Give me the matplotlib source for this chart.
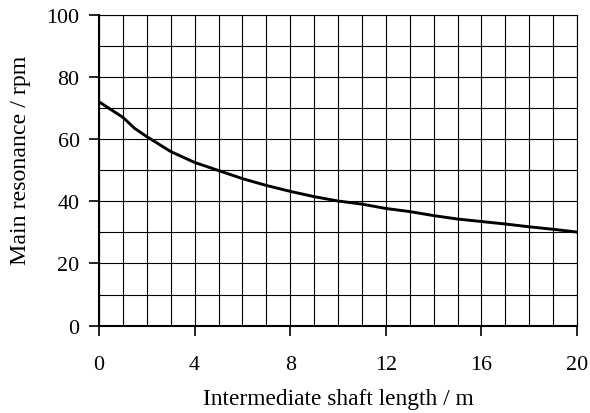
import matplotlib
matplotlib.use("Agg")
import matplotlib.pyplot as plt
from matplotlib.ticker import MultipleLocator

shaft_length = [0, 1, 1.5, 2, 3, 4, 5, 6, 7, 8, 9, 10, 11, 12, 13, 14, 15, 16, 17, 18, 19, 20]
resonance = [72, 67, 63.4, 60.8, 56, 52.5, 49.9, 47.3, 45.1, 43.2, 41.5, 40.1, 39.1, 37.7, 36.7,
             35.4, 34.3, 33.5, 32.7, 31.8, 31.0, 30.1]
x_ticks = [0, 4, 8, 12, 16, 20]
y_ticks = [0, 20, 40, 60, 80, 100]

plt.rcParams['font.family'] = ['Liberation Serif', 'DejaVu Serif']

fig = plt.figure(figsize=(5.9, 4.14), dpi=100)
ax = fig.add_axes([0.1678, 0.2109, 0.8102, 0.7511])

ax.plot(shaft_length, resonance, color='black', linewidth=2.1, zorder=3)

ax.set_xlim(0, 20)
ax.set_ylim(0, 100)
ax.set_xticks(x_ticks)
ax.set_yticks(y_ticks)
ax.xaxis.set_minor_locator(MultipleLocator(1))
ax.yaxis.set_minor_locator(MultipleLocator(10))
ax.tick_params(which='minor', length=0)
ax.tick_params(which='major', direction='out', length=7, width=1.2, labelsize=15.8, pad=7)
ax.tick_params(axis='x', pad=14)
ax.grid(True, which='both', color='black', linewidth=0.8)
ax.set_axisbelow(True)

for s in ['left', 'bottom']:
    ax.spines[s].set_linewidth(1.5)
for s in ['top', 'right']:
    ax.spines[s].set_linewidth(0.8)

ax.set_xlabel('Intermediate shaft length / m', fontsize=16.8, labelpad=10)
ax.set_ylabel('Main resonance / rpm', fontsize=17.2)
ax.yaxis.set_label_coords(-0.142, 0.535)

fig.savefig('out.png', dpi=100)
